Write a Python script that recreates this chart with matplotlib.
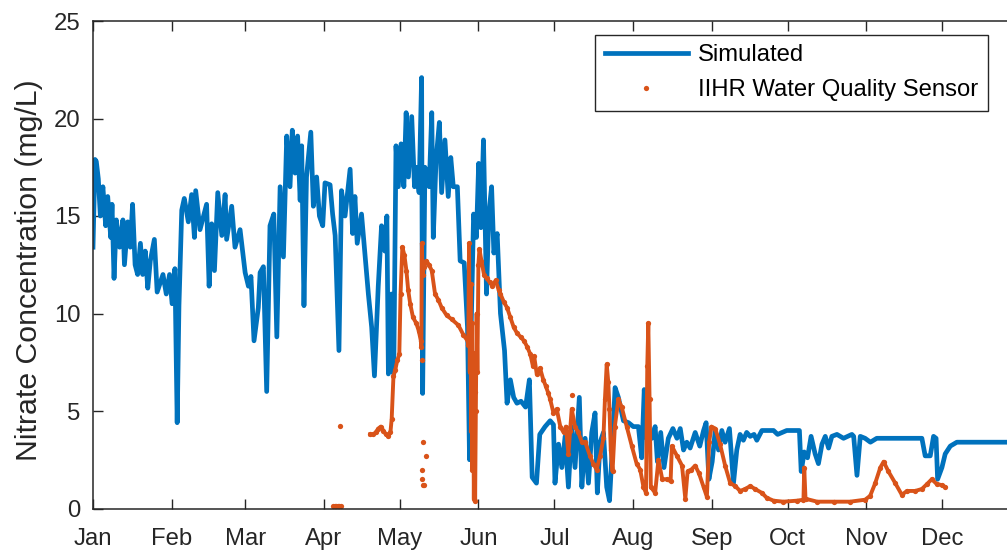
import numpy as np
import matplotlib
matplotlib.use('Agg')
import matplotlib.pyplot as plt
import matplotlib.dates as mdates

plt.rcParams['font.family'] = ['Liberation Sans', 'DejaVu Sans']

# day of year 2016 (0 = Jan 1) and simulated nitrate (mg/L)
sim_day = [0, 0.8, 1.3, 2.1, 2.9, 3.9, 5.0, 5.8, 7.0, 7.5, 8.3, 9.2, 10.5, 11.8, 12.4, 13.7,
           14.7, 15.6, 16.6, 17.6, 18.7, 19.6, 20.6, 21.6, 22.6, 24.2, 25.3, 27.6, 28.9, 30.2,
           31.2, 32.3, 33.2, 33.9, 35.0, 36.0, 37.6, 38.9, 40.0, 40.5, 42.2, 44.8, 45.8, 46.8,
           47.9, 49.2, 50.8, 52.1, 52.7, 54.7, 56.0, 58.0, 60.0, 61.3, 62.3, 63.5, 65.2, 65.9,
           67.2, 68.5, 69.8, 71.3, 72.5, 73.8, 75.1, 76.4, 77.7, 78.6, 79.7, 80.7, 81.7, 82.3,
           83.2, 84.2, 85.9, 86.9, 88.2, 89.3, 90.6, 91.5, 93.5, 94.5, 95.5, 97.0, 98.0, 99.4,
           101.4, 102.4, 103.3, 104.2, 105.9, 107.2, 108.6, 109.9, 111.0, 112.5, 113.8, 115.1,
           115.9, 116.5, 117.7, 118.6, 119.5, 120.4, 121.5, 122.6, 123.5, 124.4, 125.7, 126.8,
           127.7, 128.6, 129.6, 130.0, 130.9, 132.6, 133.6, 134.2, 135.3, 136.6, 137.5, 138.8,
           140.1, 141.1, 142.1, 143.7, 144.8, 146.4, 147.7, 148.5, 149.0, 150.1, 151.2, 152.1,
           153.0, 154.0, 155.2, 156.1, 157.2, 158.1, 159.4, 160.7, 162.3, 163.3, 164.6, 165.9,
           167.2, 168.8, 170.6, 172.1, 173.2, 174.9, 176.2, 178.3, 180.3, 181.6, 182.2, 183.6,
           184.9, 186.2, 187.5, 188.8, 190.1, 191.8, 192.8, 194.1, 195.4, 196.7, 198.0, 198.9,
           200.0, 201.3, 202.6, 203.7, 204.6, 205.9, 207.2, 209.2, 211.2, 213.1, 215.1, 216.4,
           217.4, 218.4, 220.4, 221.7, 222.6, 223.9, 225.2, 226.9, 228.7, 230.3, 231.6, 232.9,
           234.2, 235.5, 237.5, 239.3, 240.8, 241.8, 242.9, 244.2, 245.4, 246.7, 248.0, 249.3,
           251.0, 252.6, 253.9, 255.2, 256.5, 257.8, 259.2, 260.7, 261.8, 263.8, 268.4, 270.0,
           273.6, 278.6, 279.3, 280.5, 281.8, 283.2, 284.8, 286.1, 287.5, 288.8, 290.1, 291.4,
           293.4, 296.0, 299.3, 300.0, 301.3, 302.6, 304.5, 306.6, 309.1, 314.4, 326.9, 328.2,
           330.2, 331.5, 332.5, 333.1, 334.8, 336.1, 338.1, 340.7, 344.6, 366.0]
sim_val = [13.4, 17.9, 17.8, 16.9, 15.0, 16.5, 14.5, 16.0, 13.9, 15.6, 11.8, 14.8, 13.4, 14.8, 12.5, 14.7,
           13.4, 15.6, 12.5, 12.0, 13.6, 12.0, 13.2, 11.3, 12.7, 13.8, 11.1, 12.0, 11.0, 12.0,
           10.5, 12.3, 4.4, 10.4, 15.3, 15.9, 14.7, 16.1, 13.9, 16.3, 14.3, 15.6, 11.4, 14.6,
           12.2, 16.2, 14.0, 16.1, 13.8, 15.5, 13.4, 14.3, 12.1, 11.4, 11.9, 8.6, 10.3, 12.1,
           12.4, 6.0, 14.5, 15.1, 8.8, 16.5, 12.9, 19.1, 16.5, 19.4, 17.2, 19.1, 15.8, 18.6,
           10.4, 17.0, 19.3, 15.5, 17.0, 15.0, 14.5, 16.7, 16.6, 15.1, 14.0, 8.1, 16.3, 15.0,
           17.4, 14.1, 16.0, 13.6, 15.1, 13.1, 11.0, 9.3, 6.8, 11.4, 14.5, 13.2,
           15.0, 6.9, 11.0, 6.9, 18.6, 16.5, 18.7, 16.5, 20.3, 17.0, 20.1, 16.5,
           17.5, 16.2, 22.1, 5.9, 17.5, 16.5, 20.3, 13.9, 17.9, 19.8, 16.2, 18.9,
           16.0, 18.0, 16.5, 16.5, 12.7, 12.6, 9.3, 2.5, 8.4, 15.1, 13.9, 17.7,
           14.4, 18.9, 11.0, 15.1, 16.5, 13.1, 14.1, 10.0, 8.1, 5.4, 6.6, 5.7,
           5.4, 5.5, 5.2, 6.6, 1.6, 1.3, 3.8, 4.2, 4.5, 4.3, 1.3, 3.3,
           2.1, 3.7, 1.1, 4.2, 2.1, 5.7, 1.1, 3.6, 1.3, 3.9, 4.9, 0.8,
           3.4, 3.9, 1.1, 0.4, 2.6, 6.2, 5.7, 4.5, 4.4, 4.2, 4.2, 2.6,
           6.1, 3.6, 3.6, 4.2, 2.4, 3.9, 2.1, 3.6, 4.1, 3.6, 4.1, 3.0,
           3.4, 3.1, 3.9, 3.2, 4.0, 4.4, 1.5, 2.4, 4.0, 3.0, 4.0, 3.4,
           4.1, 1.3, 3.0, 3.8, 3.5, 3.9, 3.7, 3.8, 3.5, 4.0, 4.0, 3.8,
           4.0, 4.0, 1.9, 2.9, 2.6, 3.7, 2.8, 2.3, 3.3, 3.7, 3.1, 3.7,
           3.8, 3.6, 3.8, 3.7, 1.7, 3.7, 3.6, 3.4, 3.6, 3.6, 3.6, 2.7,
           2.7, 3.7, 3.6, 1.5, 2.1, 2.8, 3.2, 3.4, 3.4, 3.4]

# IIHR sensor, continuous record
sensor_day = [109.3, 110.5, 111.5, 112.5, 113.5, 114.5, 115.5, 116.5, 117.3, 117.8, 118.5, 119.2,
              120.0, 120.8, 121.3, 122.0, 122.8, 123.6, 124.3, 125.1, 126.2, 127.5, 128.5, 129.3,
              129.5, 129.7, 130.0, 130.6, 131.5, 132.5, 133.6, 134.9, 136.2, 137.5, 139.5, 141.5,
              144.1, 146.1, 147.7, 148.0, 148.3, 148.6, 148.9, 149.1, 149.4, 149.6, 149.9, 150.2,
              150.5, 150.7, 151.0, 151.3, 151.6, 152.0, 152.4, 153.2, 154.2, 155.2, 156.5, 157.5,
              158.8, 160.0, 160.7, 162.0, 163.3, 164.6, 165.9, 167.2, 168.6, 170.0, 171.2, 172.5,
              173.5, 174.0, 175.0, 176.3, 177.6, 178.5, 179.6, 180.3, 181.6, 182.9, 184.3, 185.6,
              186.5, 187.5, 188.2, 188.8, 190.1, 191.4, 192.8, 194.1, 196.0, 197.3, 198.6, 200.0,
              201.3, 201.9, 202.6, 203.2, 203.7, 204.2, 204.9, 205.8, 207.2, 208.5, 210.5, 212.5,
              214.4, 215.8, 217.1, 218.1, 218.6, 219.0, 219.5, 220.0, 221.7, 223.0, 224.5, 226.3,
              227.8, 228.3, 230.3, 232.3, 233.6, 234.5, 236.0, 237.5, 239.0, 240.8, 242.1, 243.0,
              243.9, 245.4, 247.3, 249.3, 251.3, 253.3, 255.2, 257.2, 259.2, 261.1, 263.8, 265.7,
              268.4, 272.3, 277.6, 280.2, 280.5, 281.0, 285.6, 292.1, 298.6, 304.5, 306.5, 308.5,
              310.5, 311.8, 313.7, 316.4, 319.0, 321.0, 324.3, 326.9, 328.9, 330.8, 332.8, 334.8,
              336.1]
sensor_val = [3.8, 3.8, 3.9, 4.1, 4.2, 4.0, 3.8, 3.7, 3.9, 4.6, 6.8, 7.1,
              7.6, 7.9, 11.0, 13.4, 13.0, 12.2, 11.2, 10.5, 9.8, 9.5, 9.1, 8.6,
              8.3, 13.6, 12.0, 12.4, 12.7, 12.5, 12.2, 11.0, 10.7, 10.3, 9.9, 9.7,
              9.4, 8.9, 8.6, 8.4, 13.6, 7.0, 11.5, 4.0, 9.5, 2.0, 8.0, 0.5,
              6.0, 0.4, 5.0, 10.0, 7.0, 12.5, 13.3, 12.7, 12.0, 11.8, 11.6, 11.4,
              11.7, 11.2, 11.0, 10.6, 10.3, 9.8, 9.3, 9.0, 8.8, 8.6, 8.3, 7.9,
              7.3, 7.8, 6.9, 7.2, 6.6, 6.3, 5.9, 5.6, 4.9, 5.1, 4.2, 3.9,
              4.2, 2.8, 4.0, 5.1, 4.2, 3.9, 3.4, 3.4, 2.7, 2.3, 2.0, 2.7,
              3.6, 5.6, 7.4, 6.5, 5.1, 3.0, 1.9, 4.2, 5.6, 5.2, 4.2, 3.2,
              2.3, 2.0, 1.1, 0.8, 7.3, 9.5, 5.6, 1.1, 0.8, 2.5, 1.5, 1.5,
              1.4, 3.2, 2.7, 2.2, 0.5, 1.9, 2.0, 2.2, 1.8, 1.1, 0.6, 3.4,
              4.2, 4.1, 3.3, 2.2, 1.3, 1.15, 0.9, 1.0, 1.15, 1.0, 0.8, 0.55,
              0.4, 0.35, 0.4, 0.45, 2.1, 0.5, 0.35, 0.35, 0.35, 0.45, 0.65, 1.3,
              2.1, 2.4, 1.9, 1.3, 0.7, 0.9, 0.9, 1.0, 1.25, 1.5, 1.25, 1.2,
              1.1]

# isolated sensor readings
spot_day = [94.8, 95.4, 96.0, 96.6, 97.2, 97.8, 97.4, 129.8, 130.0, 131.5, 129.9, 129.9, 130.2, 130.6, 188.8]
spot_val = [0.12, 0.15, 0.12, 0.12, 0.15, 0.12, 4.25, 7.6, 3.4, 2.7, 2.0, 1.5, 1.2, 1.2, 5.8]

blue = '#0072BD'
orange = '#D95319'
ink = '#262626'

t0 = mdates.date2num(np.datetime64('2016-01-01'))
sim_t = t0 + np.array(sim_day)
sensor_t = t0 + np.array(sensor_day)
spot_t = t0 + np.array(spot_day)

fig = plt.figure(figsize=(10.07, 5.5), dpi=100)
ax = fig.add_axes([93 / 1007, 1 - 508.5 / 550, 928 / 1007, 487.5 / 550])

sim_line, = ax.plot(sim_t, sim_val, color=blue, lw=3.4, label='Simulated')
ax.plot(sensor_t, sensor_val, color=orange, lw=2.8)
sensor_pts, = ax.plot(sensor_t, sensor_val, 'o', color=orange, ms=3.8, mew=0,
                      label='IIHR Water Quality Sensor')
ax.plot(spot_t, spot_val, 'o', color=orange, ms=3.8, mew=0)

ax.set_xlim(t0, t0 + 365.99)
ax.set_ylim(0, 25)
ax.set_yticks([0, 5, 10, 15, 20, 25])
ax.xaxis.set_major_locator(mdates.MonthLocator())
ax.xaxis.set_major_formatter(mdates.DateFormatter('%b'))
ax.tick_params(direction='in', top=True, right=True, length=7, width=1.0,
               labelsize=17.2, colors=ink)
ax.tick_params(axis='x', pad=14)
ax.tick_params(axis='y', pad=9)
for s in ax.spines.values():
    s.set_color(ink)
    s.set_linewidth(1.1)

ax.set_ylabel('Nitrate Concentration (mg/L)', fontsize=21.8, color=ink)
ax.yaxis.set_label_coords(-0.054, 0.488)

leg = ax.legend(handles=[sim_line, sensor_pts], loc='upper right',
                bbox_to_anchor=(987.5 / 1007, 1 - 34.5 / 550), bbox_transform=fig.transFigure,
                borderaxespad=0, fancybox=False, edgecolor=ink, fontsize=17.2,
                handlelength=3.5, handletextpad=0.4, labelspacing=0.55, numpoints=1,
                borderpad=0.4, framealpha=1)
leg.get_frame().set_linewidth(1.0)

fig.savefig('out.png', dpi=100)
